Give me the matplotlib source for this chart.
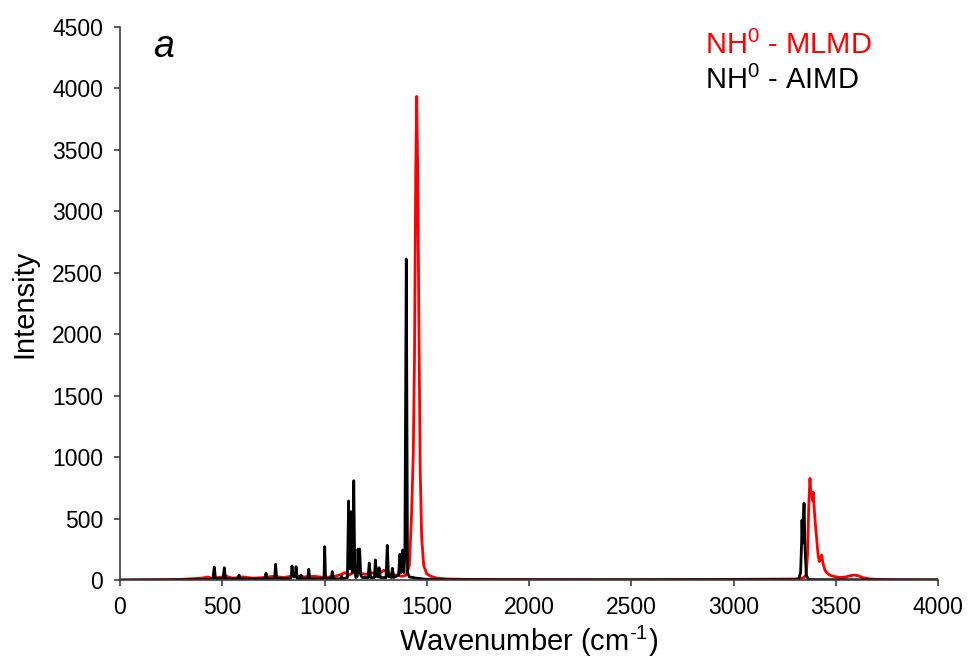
import matplotlib
matplotlib.use("Agg")
import matplotlib.pyplot as plt

plt.rcParams['font.family'] = ['Liberation Sans', 'DejaVu Sans']
plt.rcParams['mathtext.default'] = 'regular'

## spectra (wavenumber in cm-1, intensity)
mlmd_wn = [0, 200, 300, 350, 400, 430, 450, 480, 520, 550, 600, 650, 700, 750,
           800, 850, 900, 950, 1000, 1050, 1080, 1100, 1120, 1150, 1180, 1200,
           1230, 1260, 1290, 1320, 1350, 1380, 1400, 1415, 1425, 1434, 1440,
           1446, 1451, 1456, 1462, 1468, 1475, 1485, 1500, 1520, 1550, 1600,
           1700, 2000, 2500, 3000, 3300, 3340, 3355, 3362, 3368, 3374, 3378,
           3382, 3386, 3390, 3396, 3402, 3406, 3411, 3415, 3420, 3426, 3431,
           3437, 3442, 3447, 3455, 3470, 3490, 3520, 3550, 3570, 3590, 3610,
           3630, 3660, 3700, 3800, 4000]
mlmd_int = [0, 2, 5, 10, 15, 25, 12, 20, 30, 15, 25, 15, 20, 30,
            20, 35, 25, 30, 20, 30, 45, 60, 40, 70, 55, 45,
            60, 40, 80, 50, 40, 30, 40, 120, 500, 1017, 1800,
            3300, 3935, 3300, 2000, 900, 350, 120, 50, 30, 15, 8,
            5, 3, 2, 5, 8, 15, 40, 200, 600, 827, 700,
            718, 650, 714, 550, 420, 352, 250, 190, 150, 180, 203,
            140, 110, 81, 60, 40, 30, 20, 25, 35, 40, 35,
            20, 10, 5, 2, 1]

aimd_wn = [0, 400, 445, 455, 461, 467,
           500, 505, 510, 516,
           575, 579, 582, 586,
           706, 710, 714, 718,
           752, 757, 761, 766,
           834, 838, 841, 846, 851, 857, 861, 866,
           880, 885, 890,
           915, 919, 923, 928,
           994, 998, 1001, 1005,
           1033, 1038, 1043,
           1080, 1084, 1088,
           1112, 1118, 1123, 1126, 1131, 1136, 1139, 1143, 1148, 1154,
           1160, 1164, 1168, 1172, 1177, 1185,
           1213, 1219, 1225,
           1244, 1249, 1255, 1262, 1267, 1273,
           1301, 1307, 1313,
           1327, 1332, 1338,
           1362, 1369, 1374, 1378, 1382, 1388, 1393, 1400, 1406, 1415,
           1450, 1500, 1600, 2000, 2500, 3000, 3300,
           3318, 3328, 3333, 3335, 3338, 3342, 3345, 3350, 3356, 3366,
           3400, 3600, 4000]
aimd_int = [0, 3, 5, 20, 105, 12,
            10, 25, 100, 10,
            8, 15, 40, 8,
            8, 15, 54, 10,
            10, 30, 128, 12,
            10, 30, 114, 35, 25, 30, 108, 12,
            10, 40, 10,
            10, 25, 87, 10,
            10, 30, 271, 12,
            10, 68, 10,
            10, 30, 10,
            20, 643, 90, 200, 556, 60, 150, 808, 80, 20,
            30, 252, 60, 252, 40, 20,
            20, 138, 20,
            20, 163, 30, 25, 100, 20,
            20, 282, 30,
            20, 95, 20,
            40, 209, 60, 120, 244, 60, 200, 2612, 60, 25,
            15, 5, 3, 2, 2, 3, 3,
            5, 60, 300, 488, 300, 500, 624, 250, 40, 5,
            3, 2, 1]

fig = plt.figure(figsize=(9.68, 6.66), dpi=100)
ax = fig.add_axes([120 / 968, 86 / 666, 818 / 968, 553 / 666])

ax.plot(mlmd_wn, mlmd_int, color='#ff0000', lw=2.0)
ax.plot(aimd_wn, aimd_int, color='black', lw=2.0)

ax.set_xlim(0, 4000)
ax.set_ylim(0, 4500)
ax.set_xticks(range(0, 4001, 500))
ax.set_yticks(range(0, 4501, 500))
for s in ['top', 'right']:
    ax.spines[s].set_visible(False)
for s in ['left', 'bottom']:
    ax.spines[s].set_color('#404040')
    ax.spines[s].set_linewidth(1.2)
ax.tick_params(direction='out', length=4.3, width=1.2, color='#404040',
               labelsize=16.5)
ax.tick_params(axis='y', pad=8)
ax.tick_params(axis='x', pad=7)

ax.set_xlabel('Wavenumber (cm$^{\u2010 1}$)', fontsize=21, labelpad=4)
ax.set_ylabel('Intensity', fontsize=21, labelpad=10)

ax.text(0.040, 0.946, 'a', transform=ax.transAxes, fontsize=27,
        style='italic', va='baseline', ha='left')
fig.text(705 / 968, 1 - 45 / 666, 'NH$^0$ - MLMD', color='#ff0000',
         fontsize=21, va='center', ha='left')
fig.text(705 / 968, 1 - 80 / 666, 'NH$^0$ - AIMD', color='black',
         fontsize=21, va='center', ha='left')

fig.savefig('out.png', dpi=100)
